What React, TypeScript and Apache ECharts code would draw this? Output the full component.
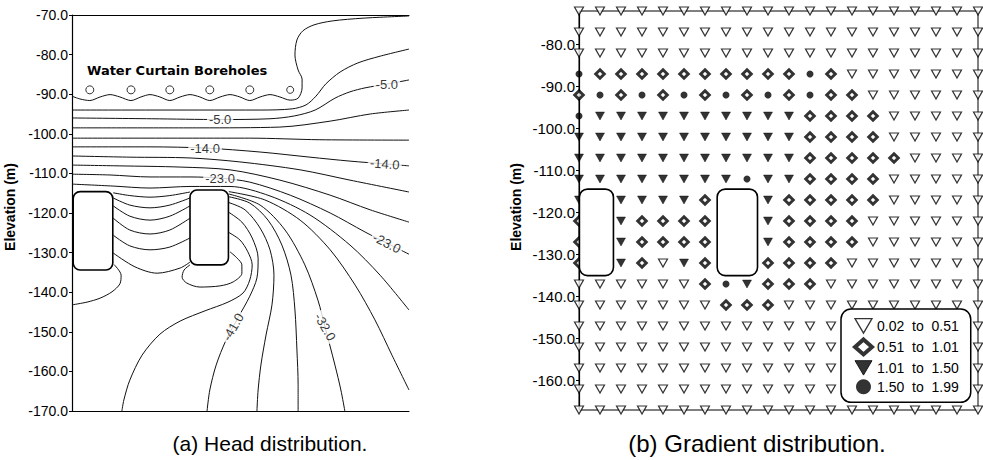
import React, { useEffect, useRef } from "react";
import * as echarts from "echarts";

// ---------- (a) Head distribution: contour lines (x in m, elevation in m) ----------
const contourTop = [[0,-90.5],[2.0,-91.2],[4.5,-91.6],[7.1,-90.7],[9.6,-90.1],[12.1,-90.7],[14.9,-91.6],[17.4,-90.7],[19.7,-90.1],[22.2,-90.7],[24.7,-91.6],[27.3,-90.7],[29.8,-90.1],[32.3,-90.7],[34.8,-91.6],[37.4,-90.7],[39.9,-90.1],[42.4,-90.7],[44.9,-91.6],[47.5,-90.7],[50.0,-90.1],[52.5,-90.7],[55.1,-91.5],[57.1,-91.0],[58.1,-88.4],[58.1,-86.2],[57.1,-83.9],[56.3,-80.1],[56.8,-76.3],[58.3,-74.0],[61.1,-72.5],[65.7,-71.5],[73.5,-70.8],[85.1,-70.25]];
const contourM2 = [[0,-94.0],[19.7,-94.0],[32.3,-94.0],[47.5,-94.0],[55.6,-93.7],[59.1,-92.7],[61.6,-90.5],[64.1,-87.4],[67.7,-84.4],[72.2,-82.1],[77.8,-80.4],[85.1,-78.6]];
const contourM5 = [[0,-96.0],[20,-96.2],[37.4,-96.4],[50,-96.2],[56.1,-95.5],[61.4,-94.0],[66.4,-91.0],[70.2,-89.4],[74.0,-88.4],[79.8,-87.4],[85.1,-86.4]];
const contourM8 = [[0,-98.5],[32.3,-98.5],[52.5,-98.3],[65.2,-96.8],[75.3,-95.0],[85.1,-94.0]];
const contourM11 = [[0,-101.1],[44.9,-101.1],[62.6,-101.5],[85.1,-101.6]];
const contourM14 = [[0,-103.3],[19.7,-103.3],[33.6,-103.6],[47.5,-104.6],[60.1,-105.9],[70.2,-106.9],[79.0,-107.6],[85.1,-108.1]];
const contourM17 = [[0,-105.6],[14.6,-105.9],[29.8,-106.1],[42.4,-107.1],[57.6,-109.1],[70.2,-111.7],[85.1,-114.7]];
const contourM20 = [[0,-107.9],[12.1,-108.1],[27.3,-108.4],[39.9,-109.1],[52.5,-111.7],[65.2,-115.5],[75.3,-119.2],[85.1,-122.3]];
const contourM23 = [[0,-110.2],[9.6,-110.4],[19.7,-110.9],[29.8,-110.9],[37.4,-111.2],[44.9,-112.2],[55.1,-115.5],[65.2,-120.0],[74.0,-124.8],[79.5,-127.6],[85.1,-130.4]];
const contourM26 = [[0,-112.7],[10.4,-113.2],[19.7,-113.7],[29.8,-113.3],[39.9,-113.3],[50.0,-115.7],[60.1,-120.5],[70.2,-128.1],[77.8,-135.7],[85.1,-144.5]];
const contourM29 = [[39.6,-114.6],[48.7,-116.7],[57.6,-121.8],[65.2,-129.3],[71.5,-138.2],[76.5,-147.0],[80.8,-155.9],[85.1,-164.7]];
const contourM32 = [[39.6,-115.2],[47.5,-118.0],[53.8,-124.3],[58.8,-133.1],[62.1,-142.0],[63.9,-148.8],[66.4,-158.4],[67.9,-164.7],[68.9,-170]];
const contourM35 = [[39.6,-115.9],[44.9,-117.5],[49.5,-121.8],[53.0,-128.1],[55.3,-135.7],[56.3,-144.5],[56.8,-154.6],[57.1,-163.4],[57.1,-170]];
const contourM38 = [[39.4,-117.3],[43.7,-119.2],[47.5,-123.8],[50.0,-129.3],[51.0,-135.7],[50.5,-143.2],[49.0,-150.8],[47.7,-158.4],[47.0,-164.7],[46.7,-170]];
const contourM41 = [[39.4,-119.7],[42.9,-122.3],[45.5,-126.3],[47.0,-131.4],[46.7,-136.4],[44.9,-141.0],[41.9,-146.5],[38.9,-152.1],[36.4,-158.4],[34.8,-164.7],[34.1,-170]];
const contourM44 = [[39.4,-124.8],[42.4,-126.8],[44.4,-129.8],[45.5,-133.1],[44.9,-136.9],[43.2,-140.2],[39.4,-142.5],[33.6,-144.7],[27.3,-147.3],[22.2,-150.6],[17.7,-155.9],[14.6,-162.2],[13.1,-167.2],[12.6,-170]];
const loopUnderCavern1 = [[0,-143.2],[3.8,-142.5],[7.1,-141.5],[10.1,-139.9],[12.1,-137.9],[12.4,-135.7],[10.6,-133.0]];
const loopUnderCavern2 = [[29.8,-133.1],[28.3,-134.4],[27.8,-136.2],[29.0,-137.7],[32.3,-138.7],[37.4,-138.4],[40.7,-137.4],[42.9,-135.2],[42.9,-133.1],[41.7,-131.4],[39.9,-129.8]];
const sag1 = [[10.4,-114.9],[14.6,-115.6],[19.7,-116.0],[24.7,-115.6],[29.8,-114.7]];
const sag2 = [[10.4,-116.2],[14.6,-118.0],[19.7,-118.7],[24.7,-118.0],[29.8,-116.2]];
const sag3 = [[10.4,-118.2],[14.6,-120.8],[19.7,-121.8],[24.7,-120.8],[29.8,-118.2]];
const sag4 = [[10.4,-121.3],[14.6,-124.3],[19.7,-125.3],[24.7,-124.3],[29.8,-121.3]];
const sag5 = [[10.4,-125.6],[14.6,-128.3],[19.7,-129.3],[24.7,-128.6],[29.8,-126.3]];
const sag6 = [[10.4,-130.1],[15.9,-133.6],[21.5,-135.2],[27.3,-133.9],[29.8,-132.4]];

const headContours = [contourTop, contourM2, contourM5, contourM8, contourM11, contourM14, contourM17, contourM20, contourM23, contourM26, contourM29, contourM32, contourM35, contourM38, contourM41, contourM44, loopUnderCavern1, loopUnderCavern2, sag1, sag2, sag3, sag4, sag5, sag6];

const contourLabelText = ["-5.0", "-5.0", "-14.0", "-14.0", "-23.0", "-23.0", "-41.0", "-32.0"];
const contourLabelPos = [[37.4,-96.4],[79.5,-87.6],[33.6,-103.6],[79.0,-107.6],[37.4,-111.2],[79.5,-127.6],[40.7,-148.8],[63.9,-148.8]];
const contourLabelAngle = [0, 0, 0, -4, 0, -27, 60, -60];

const boreholeX = [4.5, 14.9, 24.7, 34.8, 44.9, 55.1];
const boreholeElev = -88.9;
const boreholeSize = [8, 8, 8, 8, 8, 7];

const cavernsHead = [[0.3,-134.4,10.3,-114.6],[29.8,-133.1,39.5,-114.2]];
const headTicks = [-170, -70];

// ---------- (b) Gradient distribution: classes on a 20 x 20 grid ----------
const gradColX = [0,5,10,15,20,25,30,35,40,45,50,55,60,65,70,75,80,85,90,95];
const gradRowY = [-72,-77,-82,-87,-92,-97,-102,-107,-112,-117,-122,-127,-132,-137,-142,-147,-152,-157,-162,-167];
const gradeRows = [
  "00000000000000000000",
  "00000000000000000000",
  "00000000000000000000",
  "31111111111310000000",
  "13131313131311000000",
  "32222222222111100000",
  "22222222222111100000",
  "22222222222111110000",
  "22222222322111100000",
  "22222211121111100000",
  "12211111121111000000",
  "12211111121111000000",
  "12210211111110000000",
  "00000013211100000000",
  "00000001110000000000",
  "00000000000000000000",
  "00000000000000000000",
  "00000000000000000000",
  "00000000000000000000",
  "00000000000000000000",
];
const legendLabels = ["0.02  to  0.51", "0.51  to  1.01", "1.01  to  1.50", "1.50  to  1.99"];
const gradTicks = [-160, -150, -140, -130, -120, -110, -100, -90, -80];
const cavernsGrad = [[0.1,-135.0,8.2,-114.4],[32.9,-135.0,42.5,-114.4]];

const TRI = "path://M0,0L20,0L10,17Z";

export default function App() {
  const ref = useRef<HTMLDivElement>(null);
  useEffect(() => {
    if (!ref.current) return;
    const chart = echarts.init(ref.current, undefined, { renderer: "svg" });
    const fmt = (v: number) => v.toFixed(1);

    const cavernSeries = (xi: number, yi: number, data: number[][], r: number) => ({
      type: "custom",
      xAxisIndex: xi,
      yAxisIndex: yi,
      z: 6,
      silent: true,
      data,
      renderItem: (_p: any, api: any) => {
        const a = api.coord([api.value(0), api.value(3)]);
        const b = api.coord([api.value(2), api.value(1)]);
        return {
          type: "rect",
          shape: { x: a[0], y: a[1], width: b[0] - a[0], height: b[1] - a[1], r },
          style: { fill: "#fff", stroke: "#000", lineWidth: 1.6 },
        };
      },
    });

    const gradSeries = [0, 1, 2, 3].map((k) => {
      const pts: number[][] = [];
      gradeRows.forEach((row, r) => {
        for (let c = 0; c < row.length; c++) if (Number(row[c]) === k) pts.push([gradColX[c], gradRowY[r]]);
      });
      const styles: any[] = [
        { symbol: TRI, symbolSize: [9, 8], itemStyle: { color: "#fff", borderColor: "#000", borderWidth: 1.2 } },
        { symbol: "diamond", symbolSize: 8.5, itemStyle: { color: "#fff", borderColor: "#000", borderWidth: 3 } },
        { symbol: TRI, symbolSize: [9, 8], itemStyle: { color: "#000", borderColor: "#000", borderWidth: 0.5 } },
        { symbol: "circle", symbolSize: 7, itemStyle: { color: "#000" } },
      ];
      return {
        type: "scatter",
        name: legendLabels[k],
        xAxisIndex: 2,
        yAxisIndex: 1,
        data: pts,
        z: 3,
        silent: true,
        ...styles[k],
      };
    });

    const legendItemStyles: any[] = [
      { color: "#fff", borderColor: "#000", borderWidth: 1.3 },
      { color: "#fff", borderColor: "#000", borderWidth: 4 },
      { color: "#000", borderColor: "#000", borderWidth: 1 },
      { color: "#000", borderColor: "#000", borderWidth: 0 },
    ];

    const option: any = {
      animation: false,
      backgroundColor: "#fff",
      grid: [
        { left: 72, top: 15, width: 337, height: 396, show: false },
        { left: 579, top: 11, width: 399, height: 399, show: true, borderColor: "#000", borderWidth: 1, backgroundColor: "transparent" },
      ],
      xAxis: [
        { gridIndex: 0, type: "value", min: 0, max: 85.1, axisLine: { show: true, onZero: false, lineStyle: { color: "#000", width: 1 } }, axisTick: { show: false }, axisLabel: { show: false }, splitLine: { show: false } },
        { gridIndex: 0, type: "value", position: "top", min: 0, max: 85.1, axisLine: { show: true, onZero: false, lineStyle: { color: "#000", width: 1 } }, axisTick: { show: false }, axisLabel: { show: false }, splitLine: { show: false } },
        { gridIndex: 1, type: "value", min: 0, max: 95, axisLine: { show: false }, axisTick: { show: false }, axisLabel: { show: false }, splitLine: { show: false } },
      ],
      yAxis: [
        {
          gridIndex: 0, type: "value", min: headTicks[0], max: headTicks[1], interval: 10,
          axisLine: { show: true, onZero: false, lineStyle: { color: "#000", width: 1.2 } },
          axisTick: { show: true, length: 3, lineStyle: { color: "#000" } },
          axisLabel: { formatter: fmt, fontSize: 14, margin: 4, color: "#000", fontFamily: "Liberation Sans, Arial, sans-serif" },
          splitLine: { show: false },
        },
        {
          gridIndex: 1, type: "value", min: -167, max: -72,
          axisLine: { show: true, onZero: false, lineStyle: { color: "#000", width: 1.2 } },
          axisTick: { show: true, length: 3, customValues: gradTicks, lineStyle: { color: "#000" } },
          axisLabel: { customValues: gradTicks, formatter: fmt, fontSize: 15, margin: 4, color: "#000", fontFamily: "Liberation Sans, Arial, sans-serif" },
          splitLine: { show: false },
        },
      ],
      legend: {
        data: legendLabels.map((n, i) => ({ name: n, icon: [TRI, "diamond", TRI, "circle"][i], itemStyle: legendItemStyles[i] })),
        left: 841, top: 309, orient: "vertical",
        itemWidth: 17, itemHeight: 15, itemGap: 3.7,
        padding: [9, 12, 8, 12],
        borderColor: "#000", borderWidth: 1.5, borderRadius: 10, backgroundColor: "#fff",
        selectedMode: false,
        textStyle: { fontSize: 14, lineHeight: 15, color: "#000", fontFamily: "Liberation Sans, Arial, sans-serif" },
        z: 10,
      },
      graphic: [
        { type: "text", x: 87, y: 70, z: 10, style: { text: "Water Curtain Boreholes", font: 'bold 13px "DejaVu Sans"', fill: "#000", verticalAlign: "middle" } },
        { type: "text", x: 10, y: 207, rotation: Math.PI / 2, style: { text: "Elevation (m)", font: 'bold 14px "Liberation Sans", Arial', fill: "#000", align: "center", verticalAlign: "middle" } },
        { type: "text", x: 516, y: 207, rotation: Math.PI / 2, style: { text: "Elevation (m)", font: 'bold 14px "Liberation Sans", Arial', fill: "#000", align: "center", verticalAlign: "middle" } },
        { type: "text", x: 270, y: 443, style: { text: "(a) Head distribution.", font: '21px "Liberation Sans", Arial', fill: "#000", align: "center", verticalAlign: "middle" } },
        { type: "text", x: 757, y: 443, style: { text: "(b) Gradient distribution.", font: '24px "Liberation Sans", Arial', fill: "#000", align: "center", verticalAlign: "middle" } },
      ],
      series: [
        ...headContours.map((d) => ({
          type: "line", xAxisIndex: 0, yAxisIndex: 0, data: d, symbol: "none", showSymbol: false,
          smooth: 0.3, silent: true, z: 2, lineStyle: { color: "#111", width: 1 },
        })),
        {
          type: "scatter", xAxisIndex: 0, yAxisIndex: 0, z: 4, silent: true,
          data: boreholeX.map((x, i) => ({ value: [x, boreholeElev], symbolSize: boreholeSize[i] })),
          symbol: "circle", itemStyle: { color: "#fff", borderColor: "#000", borderWidth: 1 },
        },
        {
          type: "scatter", xAxisIndex: 0, yAxisIndex: 0, z: 5, silent: true, symbolSize: 0.1,
          itemStyle: { color: "rgba(0,0,0,0)" },
          data: contourLabelText.map((t, i) => ({ name: t, value: contourLabelPos[i], label: { rotate: contourLabelAngle[i] } })),
          label: {
            show: true, position: "inside", formatter: "{b}", fontSize: 13, color: "#000",
            fontFamily: "Liberation Sans, Arial, sans-serif", backgroundColor: "#fff", padding: [0, 2],
          },
        },
        cavernSeries(0, 0, cavernsHead, 7),
        ...gradSeries,
        cavernSeries(2, 1, cavernsGrad, 8),
      ],
    };
    chart.setOption(option);
    return () => chart.dispose();
  }, []);
  return <div ref={ref} style={{ position: "absolute", left: 0, top: 0, width: 983, height: 460, background: "#fff" }} />;
}
